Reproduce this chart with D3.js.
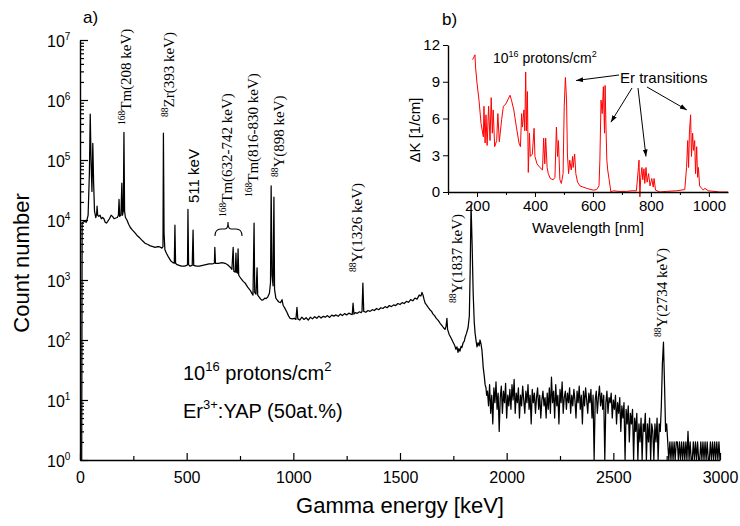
<!DOCTYPE html>
<html>
<head>
<meta charset="utf-8">
<script src="https://cdn.jsdelivr.net/npm/d3@7"></script>
<style>
    body { margin: 0; background: #fff; }
    svg text { font-family: Arial, "Liberation Sans", sans-serif; fill: #000; }
    svg text.serif { font-family: "Times New Roman", "Liberation Serif", serif; }
    .axis path, .axis line { stroke: #000; }
</style>
</head>
<body>
<div id="chart"></div>
<script>
// ---- data: gamma spectrum (keV, counts) ----
const spectrumPeaks = [
    [0, 1], [8, 1], [10, 9000], [20, 9500], [30, 9200], [38, 12000], [44, 60000], [48, 580000], [52, 90000],
    [56, 30000], [60, 190000], [64, 40000], [68, 14000], [74, 11000], [78, 12500], [80, 17000], [83, 12000],
    [88, 11500], [94, 12000], [100, 10500], [106, 11000], [112, 10500], [118, 9200], [124, 8900], [130, 9500],
    [138, 10500], [146, 12000], [152, 11500], [160, 10500], [168, 10800], [175, 11000], [180, 12000], [183, 22000],
    [186, 11500], [192, 12000], [196, 41000], [199, 12000], [203, 14000], [206, 290000], [209, 14000], [213, 11000],
    [220, 10000], [228, 8500], [236, 7500], [246, 6800], [258, 6100], [270, 5400], [281, 5000], [293, 4500],
    [305, 4100], [318, 3900], [330, 3700], [342, 3600], [352, 3500], [364, 3600], [375, 3550], [384, 3400],
    [389, 3600], [391, 280000], [394, 6000], [398, 3200], [405, 2800], [415, 2400], [425, 2100], [435, 1950],
    [442, 1900], [445, 8200], [448, 1900], [455, 1800], [465, 1750], [475, 1700], [490, 1700], [500, 1750],
    [504, 1800], [506, 15000], [509, 1800], [515, 1700], [526, 1750], [530, 6800], [533, 1750], [545, 1700],
    [560, 1700], [575, 1750], [590, 1800], [605, 1850], [620, 1850], [630, 1900], [632, 3500], [635, 1900],
    [650, 1900], [665, 1950], [680, 1900], [692, 1800], [703, 1650], [712, 1500], [718, 3500], [721, 1400],
    [728, 1350], [731, 2800], [734, 1350], [738, 1300], [741, 3300], [744, 1200], [755, 1050], [765, 950],
    [775, 880], [786, 760], [797, 680], [806, 600], [811, 560], [816, 8900], [819, 620], [825, 580], [830, 1600],
    [833, 560], [840, 520], [847, 480], [853, 460], [860, 470], [866, 500], [872, 490], [880, 520], [888, 600],
    [893, 900], [896, 37000], [900, 1200], [905, 800], [909, 24000], [912, 700], [918, 500], [925, 460],
    [932, 430], [940, 420], [947, 470], [952, 380], [960, 340], [970, 290], [978, 250], [985, 230], [995, 225],
    [1005, 230], [1012, 220], [1017, 350], [1021, 225], [1030, 215], [1040, 240], [1050, 220], [1060, 235],
    [1070, 215], [1080, 240], [1090, 225], [1100, 245], [1110, 230], [1120, 250], [1130, 232], [1140, 248],
    [1150, 240], [1160, 255], [1170, 238], [1180, 260], [1190, 250], [1200, 262], [1210, 248], [1220, 270],
    [1230, 255], [1240, 275], [1250, 262], [1260, 280], [1270, 270], [1276, 265], [1280, 410], [1284, 270],
    [1290, 285], [1300, 278], [1310, 295], [1318, 285], [1322, 300], [1326, 890], [1330, 300], [1340, 290],
    [1350, 310], [1360, 300], [1370, 320], [1380, 310], [1390, 335], [1400, 320], [1410, 345], [1420, 335],
    [1430, 360], [1440, 345], [1450, 375], [1460, 360], [1470, 385], [1480, 375], [1490, 405], [1500, 390],
    [1510, 420], [1520, 405], [1530, 440], [1540, 425], [1550, 470], [1560, 450], [1570, 500], [1580, 480],
    [1590, 560], [1598, 540], [1603, 620], [1608, 560], [1613, 470], [1618, 410], [1625, 380], [1632, 350],
    [1640, 320], [1648, 300], [1655, 270], [1662, 255], [1670, 230], [1680, 210], [1688, 190], [1696, 175],
    [1704, 160], [1711, 150], [1716, 170], [1720, 230], [1723, 150], [1730, 125], [1738, 110], [1744, 100],
    [1750, 90], [1756, 82], [1762, 70], [1767, 77], [1772, 62], [1776, 72], [1781, 65], [1786, 78], [1790, 75],
    [1796, 90], [1801, 95], [1805, 110], [1812, 130], [1819, 160], [1825, 250], [1829, 1500], [1833, 17800],
    [1838, 4000], [1843, 600], [1848, 200], [1852, 130], [1857, 95], [1861, 77], [1866, 90], [1871, 80],
    [1875, 100], [1880, 85], [1884, 68], [1887, 50], [1890, 35], [1895, 25], [1899, 18], [1903, 16], [1906, 12]
]

// noisy tail of the spectrum, one value per 5 keV channel from 1910 keV
const tailStartKeV = 1910
const tailStepKeV = 5
const tailCounts = [
    14, 8, 18, 6, 12, 4, 16, 9, 20, 7, 13, 3, 11, 17, 6, 14, 9, 19, 5, 12, 8, 15, 7, 18, 10, 22, 6, 13, 9, 16,
    5, 12, 8, 17, 10, 6, 14, 9, 18, 7, 12, 4, 15, 9, 13, 6, 11, 16, 7, 12, 5, 10, 14, 8, 11, 5, 13, 7,
    16, 6, 24, 9, 14, 5, 18, 8, 12, 4, 15, 9, 20, 6, 11, 14, 7, 13, 9, 16, 6, 12, 8, 15, 10, 5, 14, 9, 17, 7,
    12, 4, 14, 8, 16, 10, 6, 13, 9, 15, 5, 12, 1, 10, 14, 6, 11, 17, 8, 13, 7, 12, 1, 9, 14, 6, 11, 9, 13, 5,
    10, 7, 12, 4, 9, 6, 11, 3, 8, 5, 9, 1, 7, 4, 8, 2, 6, 4, 7, 1,
    5, 3, 6, 1, 4, 2, 5, 1, 4, 3, 6, 1, 4, 2, 5, 1, 4, 3, 1, 4, 2, 5, 1, 4, 3, 8, 40, 92, 18, 3, 4,
    2, 1, 2, 1, 2, 1, 2, 1, 2, 2, 1, 2, 1, 2, 1, 2, 1, 2, 1, 3, 1, 2, 1, 1, 2, 1, 2, 1, 2, 1, 1, 2, 1, 2, 1,
    2, 1, 2, 1, 1, 2, 1, 2, 1, 2, 1, 2, 1, 2, 1
]

// inset b): induced absorption (nm, 1/cm)
const insetAbsorption = [
    [185, 10.8], [189, 11.0], [193, 11.2], [195, 10.2], [200, 8.9], [207, 7.5], [214, 5.6], [222, 4.5], [224, 7.0],
    [228, 4.0], [231, 6.3], [235, 3.8], [240, 7.0], [245, 4.2], [249, 7.7], [253, 4.8], [256, 6.7], [261, 3.7],
    [268, 4.2], [272, 6.4], [277, 4.1], [285, 5.9], [291, 7.0], [300, 7.2], [308, 7.6], [314, 7.9], [319, 7.5],
    [327, 6.7], [336, 5.3], [345, 4.0], [350, 3.7], [354, 6.4], [357, 5.3], [362, 6.7], [365, 5.0], [368, 9.8],
    [371, 5.0], [374, 8.2], [377, 1.6], [381, 4.8], [384, 2.9], [391, 3.1], [397, 5.2], [400, 2.9], [407, 2.3],
    [417, 2.0], [426, 1.8], [430, 4.4], [434, 2.3], [437, 4.4], [442, 2.0], [446, 1.5], [453, 1.1], [463, 1.0],
    [469, 1.2], [474, 5.3], [478, 2.9], [481, 4.2], [486, 1.0], [491, 0.7], [497, 1.5], [501, 7.0], [505, 9.35],
    [509, 7.5], [512, 3.1], [516, 1.5], [520, 2.6], [525, 1.8], [530, 2.9], [532, 2.0], [537, 3.1], [541, 1.5],
    [547, 0.8], [555, 0.5], [578, 0.3], [601, 0.15], [613, 0.2], [621, 0.5], [624, 2.6], [628, 7.5], [632, 6.4],
    [636, 8.6], [640, 4.8], [642, 8.7], [645, 5.3], [648, 2.6], [651, 1.8], [656, 1.0], [662, 0], [670, 0.1],
    [690, 0.05], [716, 0.05], [735, 0.1], [750, 0.1], [757, 2.0], [759, 2.6], [762, -0.4], [765, 1.2], [769, 2.0],
    [772, 1.0], [776, 1.9], [779, 0.7], [783, 2.0], [787, 0.8], [792, 1.5], [797, 0.5], [803, 1.1], [808, 0.4],
    [811, 1.1], [816, 0.15], [831, 0], [854, 0.05], [889, 0.1], [917, 0.2], [923, 2.0], [927, 4.2], [930, 2.0],
    [933, 4.9], [937, 6.3], [940, 2.9], [944, 4.8], [947, 3.4], [951, 4.2], [954, 1.5], [958, 3.7], [961, 1.2],
    [964, 2.0], [968, 0.5], [975, 0.3], [981, 0.15], [986, 0.3], [998, 0.1], [1038, 0], [1066, 0]
]

// tick values
const energyTicks = [0, 500, 1000, 1500, 2000, 2500, 3000]
const energyMinor = [250, 750, 1250, 1750, 2250, 2750]
const countExponents = [0, 1, 2, 3, 4, 5, 6, 7]
const lambdaTicks = [200, 400, 600, 800, 1000]
const lambdaMinor = [100, 300, 500, 700, 900]
const dkTicks = [0, 3, 6, 9, 12]

// peak labels: [mass number, rest of label]
const peakLabels = [
    ['168', 'Tm(208 keV)'], ['88', 'Zr(393 keV)'], ['168', 'Tm(632-742 keV)'], ['168', 'Tm(816-830 keV)'],
    ['88', 'Y(898 keV)'], ['88', 'Y(1326 keV)'], ['88', 'Y(1837 keV)'], ['88', 'Y(2734 keV)']
]
// arrow tips for "Er transitions" (nm, 1/cm)
const erArrowTips = [[542, 9.1], [662, 5.7], [783, 2.9], [924, 6.7]]

// ---- drawing ----
const svg = d3.select('#chart').append('svg').attr('width', 740).attr('height', 526)
const plain = d3.format('d')

const x = d3.scaleLinear().domain([0, 3000]).range([80, 720])
const y = d3.scaleLog().domain([1, 1e7]).range([460, 40])

// spectrum line
const tail = tailCounts.map((c, i) => [tailStartKeV + i * tailStepKeV, c])
const spectrum = spectrumPeaks.concat(tail)
svg.append('path')
    .datum(spectrum)
    .attr('fill', 'none')
    .attr('stroke', '#000')
    .attr('stroke-width', 1.25)
    .attr('stroke-linejoin', 'round')
    .attr('d', d3.line()
        .x(d => x(d[0]))
        .y(d => y(Math.max(1, d[1]))))

// left axis (ticks inside)
const yMajor = countExponents.map(e => Math.pow(10, e))
const yMinor = []
countExponents.slice(0, -1).forEach(e => d3.range(2, 10).forEach(m => yMinor.push(m * Math.pow(10, e))))
const gy = svg.append('g').attr('class', 'axis').attr('transform', 'translate(80,0)')
gy.call(d3.axisLeft(y).tickValues(yMajor).tickSize(-8).tickSizeOuter(0).tickFormat(''))
gy.append('g').call(d3.axisLeft(y).tickValues(yMinor).tickSize(-4).tickSizeOuter(0).tickFormat(''))
    .select('.domain').remove()
gy.selectAll('path').attr('stroke-width', 1.5)
gy.selectAll('line').attr('stroke-width', 1.2)

countExponents.forEach(e => {
    const t = svg.append('text')
        .attr('x', 47)
        .attr('y', y(Math.pow(10, e)) + 7)
        .attr('font-size', 16)
    t.append('tspan').text('10')
    t.append('tspan').attr('font-size', 10).attr('dy', -7).text(e)
})

// bottom axis (ticks inside)
const gx = svg.append('g').attr('class', 'axis').attr('transform', 'translate(0,460)')
gx.call(d3.axisBottom(x).tickValues(energyTicks).tickSize(-7).tickSizeOuter(0).tickPadding(12).tickFormat(plain))
gx.append('g').call(d3.axisBottom(x).tickValues(energyMinor).tickSize(-4).tickSizeOuter(0).tickFormat(''))
    .select('.domain').remove()
gx.selectAll('path').attr('stroke-width', 1.5)
gx.selectAll('line').attr('stroke-width', 1.2)
gx.selectAll('text').attr('font-size', 16).attr('font-family', 'Arial, "Liberation Sans", sans-serif')

// axis titles
svg.append('text')
    .attr('transform', 'translate(29,263) rotate(-90)')
    .attr('text-anchor', 'middle')
    .attr('font-size', 22)
    .text('Count number')
svg.append('text')
    .attr('x', 400).attr('y', 513)
    .attr('text-anchor', 'middle')
    .attr('font-size', 22)
    .text('Gamma energy [keV]')
svg.append('text').attr('x', 83).attr('y', 23).attr('font-size', 17).text('a)')

// vertical peak labels
const vlabel = (px, py, sup, main) => {
    const t = svg.append('text')
        .attr('class', 'serif')
        .attr('transform', `translate(${px},${py}) rotate(-90)`)
        .attr('font-size', 15)
    t.append('tspan').attr('font-size', 9.5).attr('dy', -6).text(sup)
    t.append('tspan').attr('dy', 6).text(main)
}
const labelSpots = [[131, 125], [174, 117], [232, 217], [258, 197], [284, 177], [362, 272], [462, 303], [667, 337]]
peakLabels.forEach((p, i) => vlabel(labelSpots[i][0], labelSpots[i][1], p[0], p[1]))

svg.append('text')
    .attr('transform', 'translate(199,203) rotate(-90)')
    .attr('font-size', 15)
    .text('511 keV')

// brace under the 632-742 keV label
svg.append('path')
    .attr('fill', 'none')
    .attr('stroke', '#000')
    .attr('stroke-width', 1.1)
    .attr('d', 'M215,236 Q215,229 221,229 L225,229 Q228,229 228,222 Q228,229 231,229 L236,229 Q242,229 242,236')

// sample text
const t1 = svg.append('text').attr('x', 183).attr('y', 380).attr('font-size', 20)
t1.append('tspan').text('10')
t1.append('tspan').attr('font-size', 13).attr('dy', -9).text('16')
t1.append('tspan').attr('dy', 9).text(' protons/cm')
t1.append('tspan').attr('font-size', 13).attr('dy', -9).text('2')
const t2 = svg.append('text').attr('x', 183).attr('y', 418).attr('font-size', 20)
t2.append('tspan').text('Er')
t2.append('tspan').attr('font-size', 13).attr('dy', -9).text('3+')
t2.append('tspan').attr('dy', 9).text(':YAP (50at.%)')

// ---- inset b) ----
const xi = d3.scaleLinear().domain([100, 1066]).range([448, 728])
const yi = d3.scaleLinear().domain([0, 12]).range([192, 45])

svg.append('path')
    .datum(insetAbsorption)
    .attr('fill', 'none')
    .attr('stroke', '#ff0000')
    .attr('stroke-width', 1)
    .attr('stroke-linejoin', 'round')
    .attr('d', d3.line()
        .x(d => xi(d[0]))
        .y(d => yi(d[1])))

const gxi = svg.append('g').attr('class', 'axis').attr('transform', 'translate(0,192)')
gxi.call(d3.axisBottom(xi).tickValues(lambdaTicks).tickSize(5).tickSizeOuter(0).tickPadding(3).tickFormat(plain))
gxi.append('g').call(d3.axisBottom(xi).tickValues(lambdaMinor).tickSize(3).tickSizeOuter(0).tickFormat(''))
    .select('.domain').remove()
gxi.selectAll('text').attr('font-size', 15).attr('font-family', 'Arial, "Liberation Sans", sans-serif')

const gyi = svg.append('g').attr('class', 'axis').attr('transform', 'translate(448,0)')
gyi.call(d3.axisLeft(yi).tickValues(dkTicks).tickSize(5).tickSizeOuter(0).tickPadding(3).tickFormat(plain))
gyi.selectAll('text').attr('font-size', 15).attr('font-family', 'Arial, "Liberation Sans", sans-serif')
svg.selectAll('.axis path').attr('stroke-width', 1.4)

svg.append('text')
    .attr('transform', 'translate(420,130) rotate(-90)')
    .attr('text-anchor', 'middle')
    .attr('font-size', 15)
    .text('\u0394K [1/cm]')
svg.append('text')
    .attr('x', 588).attr('y', 233)
    .attr('text-anchor', 'middle')
    .attr('font-size', 15)
    .text('Wavelength [nm]')
svg.append('text').attr('x', 442).attr('y', 25).attr('font-size', 17).text('b)')

const t3 = svg.append('text').attr('x', 493).attr('y', 63).attr('font-size', 14)
t3.append('tspan').text('10')
t3.append('tspan').attr('font-size', 9).attr('dy', -6).text('16')
t3.append('tspan').attr('dy', 6).text(' protons/cm')
t3.append('tspan').attr('font-size', 9).attr('dy', -6).text('2')

svg.append('text').attr('x', 620).attr('y', 83).attr('font-size', 15).text('Er transitions')

svg.append('defs').append('marker')
    .attr('id', 'head')
    .attr('viewBox', '0 0 10 10')
    .attr('refX', 10).attr('refY', 5)
    .attr('markerWidth', 7).attr('markerHeight', 7)
    .attr('orient', 'auto')
    .append('path').attr('d', 'M0,1.5 L10,5 L0,8.5 Z').attr('fill', '#000')

const arrowFrom = [[619, 75], [632, 88], [638, 88], [647, 87]]
erArrowTips.forEach((tip, i) => {
    svg.append('line')
        .attr('x1', arrowFrom[i][0]).attr('y1', arrowFrom[i][1])
        .attr('x2', xi(tip[0])).attr('y2', yi(tip[1]))
        .attr('stroke', '#000')
        .attr('stroke-width', 1)
        .attr('marker-end', 'url(#head)')
})
</script>
</body>
</html>
